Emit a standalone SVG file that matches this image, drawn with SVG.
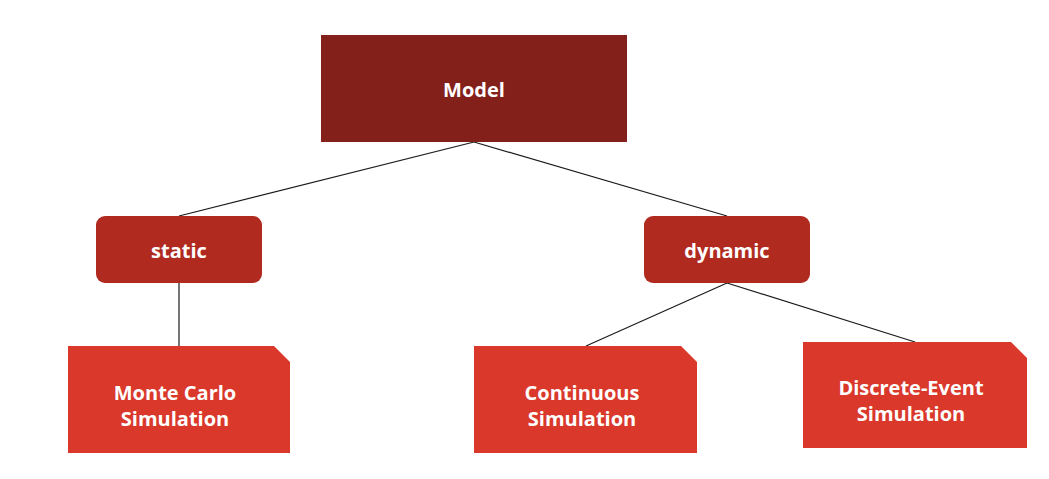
<svg xmlns="http://www.w3.org/2000/svg" width="1049" height="479" viewBox="0 0 1049 479">
<style>
.t{font-family:"Open Sans","Liberation Sans",sans-serif;font-weight:bold;font-size:20px;fill:#ffffff;text-anchor:middle}
.c{stroke:#1a1a1a;stroke-width:1.2;fill:none}
.leaf{fill:#D9382A}
.mid{fill:#B02A20}
</style>
<rect width="1049" height="479" fill="#ffffff"/>
<g id="connectors">
<line class="c" x1="474" y1="142" x2="179" y2="216"/>
<line class="c" x1="474" y1="142" x2="727" y2="216"/>
<line class="c" x1="179" y1="283" x2="179" y2="346"/>
<line class="c" x1="727" y1="283" x2="586" y2="346"/>
<line class="c" x1="727" y1="283" x2="915" y2="342"/>
</g>
<g id="model">
<rect x="321" y="35" width="306" height="107" fill="#84201A"/>
<text class="t" x="474" y="97">Model</text>
</g>
<g id="static">
<rect class="mid" x="96" y="216" width="166" height="67" rx="9"/>
<text class="t" x="179" y="258">static</text>
</g>
<g id="dynamic">
<rect class="mid" x="644" y="216" width="166" height="67" rx="9"/>
<text class="t" x="727" y="258">dynamic</text>
</g>
<g id="montecarlo">
<path class="leaf" d="M68 346 H274 L290 362 V453 H68 Z"/>
<text class="t" x="175" y="400">Monte Carlo</text>
<text class="t" x="175" y="426">Simulation</text>
</g>
<g id="continuous">
<path class="leaf" d="M474 346 H681 L697 362 V453 H474 Z"/>
<text class="t" x="582" y="400">Continuous</text>
<text class="t" x="582" y="426">Simulation</text>
</g>
<g id="discrete">
<path class="leaf" d="M803 342 H1011 L1027 358 V448 H803 Z"/>
<text class="t" x="911" y="395">Discrete-Event</text>
<text class="t" x="911" y="421">Simulation</text>
</g>
</svg>
